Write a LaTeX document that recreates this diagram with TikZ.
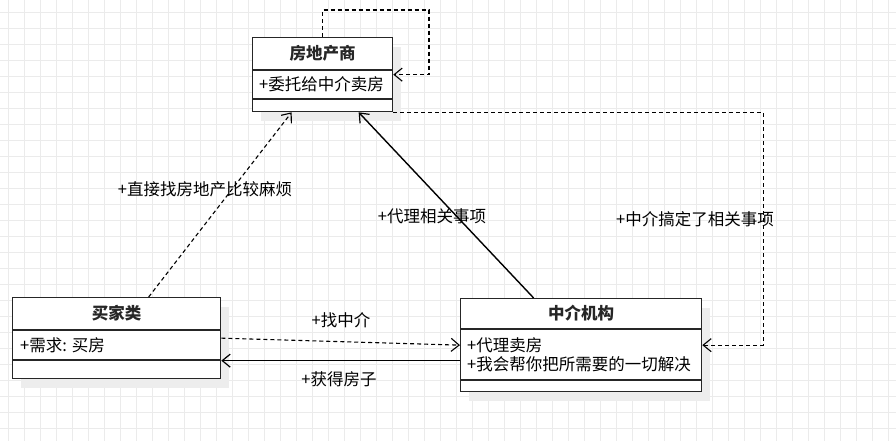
\documentclass[tikz,border=0pt]{standalone}
\usepackage{fontspec}
\setmainfont{Noto Sans CJK SC}
\usepackage{tikz}
\usetikzlibrary{arrows.meta,shadows}
\tikzset{
    class-box/.style = {draw=black!85, fill=white, line width=1.3pt, rectangle, anchor=north west, inner sep=0pt,
        general shadow={fill=black!7, shadow xshift=8pt, shadow yshift=-9pt}},
    class-title/.style = {font=\fontsize{16.5pt}{19pt}\selectfont\bfseries, text=black!85, inner sep=0pt},
    class-attr/.style = {anchor=west, inner sep=0pt, align=left},
    class-line/.style = {draw=black!85, line width=1.3pt},
    link-label/.style = {inner sep=0pt},
    grid-line/.style = {draw=black!8, line width=0.9pt},
    dep-link/.style = {line width=1.1pt, dash pattern=on 4pt off 3pt, -{Straight Barb[length=8pt,width=13pt,line width=1.1pt]}},
    assoc-link/.style = {line width=1.4pt, -{Straight Barb[length=8pt,width=13pt,line width=1.2pt]}},
}

\begin{document}
\begin{tikzpicture}[x=1pt, y=-1pt, font=\fontsize{16.5pt}{19pt}\selectfont]
\useasboundingbox[fill=white] (0,0) rectangle (896,441);
\foreach \gx in {8,24,...,888} \draw[grid-line] (\gx,0) -- (\gx,441);
\foreach \gy in {12,28,...,428} \draw[grid-line] (0,\gy) -- (896,\gy);

% classes
\node[class-box, minimum width=140pt, minimum height=74pt] (developer) at (252,37) {};
\node[class-title] (developer-title) at ([yshift=-16.5pt]developer.north) {房地产商};
\draw[class-line] ([yshift=-33pt]developer.north west) -- ([yshift=-33pt]developer.north east);
\draw[class-line] ([yshift=-62pt]developer.north west) -- ([yshift=-62pt]developer.north east);
\node[class-attr] (developer-attr) at ([xshift=7pt,yshift=-47.5pt]developer.north west) {+委托给中介卖房};

\node[class-box, minimum width=208pt, minimum height=81pt] (buyer) at (12,297) {};
\node[class-title] (buyer-title) at ([yshift=-16.5pt]buyer.north) {买家类};
\draw[class-line] ([yshift=-33pt]buyer.north west) -- ([yshift=-33pt]buyer.north east);
\draw[class-line] ([yshift=-63pt]buyer.north west) -- ([yshift=-63pt]buyer.north east);
\node[class-attr] (buyer-attr) at ([xshift=8pt,yshift=-48pt]buyer.north west) {+需求: 买房};

\node[class-box, minimum width=241pt, minimum height=93pt] (agency) at (460,298) {};
\node[class-title] (agency-title) at ([yshift=-15.5pt]agency.north) {中介机构};
\draw[class-line] ([yshift=-31pt]agency.north west) -- ([yshift=-31pt]agency.north east);
\draw[class-line] ([yshift=-82pt]agency.north west) -- ([yshift=-82pt]agency.north east);
\node[class-attr] (agency-attr) at ([xshift=7pt,yshift=-56.5pt]agency.north west) {+代理卖房\\+我会帮你把所需要的一切解决};

% links
\coordinate (developer-loop) at (429,10);
\draw[dep-link] (developer.north) |- (developer-loop) |- (developer.east);
\draw[dep-link] ([xshift=32pt]buyer.north) -- ([xshift=-31pt]developer.south);
\draw[assoc-link] ([xshift=-47.5pt]agency.north) -- ([xshift=36pt]developer.south);
\draw[dep-link] (buyer.east) -- (agency.west);
\draw[assoc-link] ([yshift=-15.5pt]agency.west) -- ([yshift=-22.5pt]buyer.east);
\draw[dep-link] (developer.south east) -| ([xshift=61pt]agency.east) -- (agency.east);

\node[link-label] (direct-label) at (205,189) {+直接找房地产比较麻烦};
\node[link-label] (proxy-label) at (432,216) {+代理相关事项};
\node[link-label] (done-label) at (695,219) {+中介搞定了相关事项};
\node[link-label] (find-label) at (341,320) {+找中介};
\node[link-label] (house-label) at (339,379) {+获得房子};
\end{tikzpicture}
\end{document}
